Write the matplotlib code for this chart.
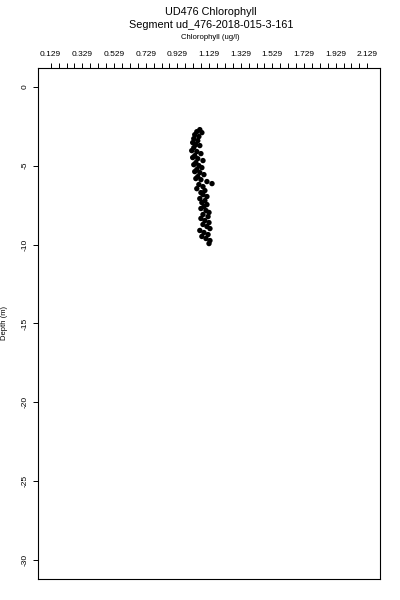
import matplotlib
matplotlib.use("Agg")
import matplotlib.pyplot as plt
import numpy as np

chl = [1.071, 1.052, 1.084, 1.039, 1.065, 1.033, 1.058, 1.026, 1.046, 1.071,
       1.033, 1.020, 1.052, 1.078, 1.039, 1.026, 1.058, 1.091, 1.046, 1.033,
       1.065, 1.084, 1.052, 1.039, 1.071, 1.097, 1.058, 1.046, 1.078, 1.116,
       1.148, 1.065, 1.091, 1.052, 1.103, 1.078, 1.091, 1.116, 1.071, 1.103,
       1.084, 1.116, 1.097, 1.078, 1.110, 1.129, 1.091, 1.123, 1.078, 1.103,
       1.129, 1.091, 1.116, 1.135, 1.071, 1.097, 1.123, 1.084, 1.110, 1.135,
       1.129]
depth = [-2.72, -2.85, -2.91, -3.04, -3.16, -3.29, -3.42, -3.54, -3.67, -3.73,
         -3.86, -4.05, -4.11, -4.24, -4.37, -4.49, -4.56, -4.68, -4.81, -4.94,
         -5.00, -5.13, -5.25, -5.38, -5.44, -5.57, -5.70, -5.82, -5.89, -6.01,
         -6.14, -6.20, -6.33, -6.46, -6.58, -6.71, -6.84, -6.96, -7.09, -7.22,
         -7.34, -7.47, -7.59, -7.72, -7.85, -7.97, -8.10, -8.23, -8.35, -8.48,
         -8.61, -8.73, -8.86, -8.99, -9.11, -9.24, -9.37, -9.49, -9.62, -9.75,
         -9.94]

x_labels = ["0.129", "0.329", "0.529", "0.729", "0.929", "1.129", "1.329",
            "1.529", "1.729", "1.929", "2.129"]
y_ticks = [0, -5, -10, -15, -20, -25, -30]

plt.rcParams['font.family'] = ['Liberation Sans', 'DejaVu Sans']

fig = plt.figure(figsize=(4, 6), dpi=100)
ax = fig.add_axes([0.095, 0.035, 0.855, 0.852])
ax.scatter(chl, depth, s=15, c='black', edgecolors='none')

ax.set_xlim(0.049, 2.209)
ax.set_ylim(-31.2, 1.2)

ax.xaxis.tick_top()
xt = [float(v) for v in x_labels]
ax.set_xticks(xt)
ax.set_xticklabels(x_labels, fontsize=6)
ax.set_xticks([0.129 + 0.05 * i for i in range(41)], minor=True)
ax.tick_params(axis='x', which='both', direction='out', length=3.6, width=0.7, pad=3.5)

ax.set_yticks(y_ticks)
ax.set_yticklabels([str(v) for v in y_ticks], fontsize=6, rotation=90, va='center')
ax.tick_params(axis='y', direction='out', length=3.6, width=0.7, pad=3)

for s in ax.spines.values():
    s.set_linewidth(0.8)

fig.text(0.0125, 0.462, 'Depth (m)', rotation=90, ha='center', va='center', fontsize=5.5)
fig.text(0.527, 0.98, 'UD476 Chlorophyll', ha='center', va='center', fontsize=7.8)
fig.text(0.527, 0.958, 'Segment ud_476-2018-015-3-161', ha='center', va='center', fontsize=7.8)
fig.text(0.527, 0.938, 'Chlorophyll (ug/l)', ha='center', va='center', fontsize=5.6)

fig.savefig('out.png', dpi=100)
